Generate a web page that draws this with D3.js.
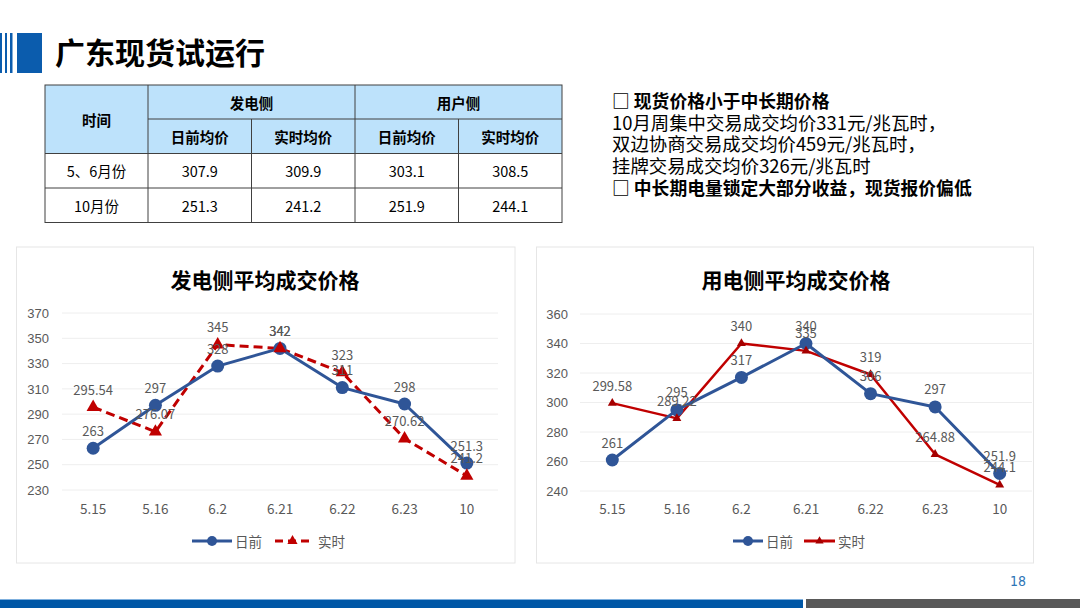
<!DOCTYPE html>
<html><head><meta charset="utf-8">
<script src="https://cdn.jsdelivr.net/npm/d3@7/dist/d3.min.js"></script>
<style>
html,body{margin:0;padding:0;background:#fff;}
svg{display:block;}
</style></head>
<body>
<script>
// ---------- data ----------
const categories = ["5.15","5.16","6.2","6.21","6.22","6.23","10"];
const genDayAhead = [263, 297, 328, 342, 311, 298, 251.3];
const genRealTime = [295.54, 276.07, 345, 342, 323, 270.62, 241.2];
const userDayAhead = [261, 295, 317, 340, 306, 297, 251.9];
const userRealTime = [299.58, 289.22, 340, 335, 319, 264.88, 244.1];
const genTicks = [230,250,270,290,310,330,350,370];
const userTicks = [240,260,280,300,320,340,360];
const seriesNames = ["日前","实时"];
const tableHeadTop = ["时间","发电侧","用户侧"];
const tableHeadSub = ["日前均价","实时均价","日前均价","实时均价"];
const tableRowLabels = ["5、6月份","10月份"];
const tableValues = [["307.9","309.9","303.1","308.5"],["251.3","241.2","251.9","244.1"]];
const noteLines = [
  {t:"□ 现货价格小于中长期价格", b:true},
  {t:"10月周集中交易成交均价331元/兆瓦时，", b:false},
  {t:"双边协商交易成交均价459元/兆瓦时，", b:false},
  {t:"挂牌交易成交均价326元/兆瓦时", b:false},
  {t:"□ 中长期电量锁定大部分收益，现货报价偏低", b:true}
];

const W=1080,H=608;
const CJK = "'Noto Sans CJK SC','Microsoft YaHei',sans-serif";
const svg = d3.select("body").append("svg").attr("width",W).attr("height",H);

// ---------- header ----------
const blue="#0b5cad";
[[0,2],[5,2],[10,2.5]].forEach(([x,w])=>svg.append("rect").attr("x",x).attr("y",33).attr("width",w).attr("height",40).attr("fill",blue));
svg.append("rect").attr("x",17).attr("y",33).attr("width",25).attr("height",40).attr("fill",blue);
svg.append("text").attr("x",55).attr("y",64).attr("font-family",CJK).attr("font-weight","bold")
  .attr("font-size",30).attr("fill","#000").text("广东现货试运行");

// ---------- table ----------
const colX=[45,148,251.5,355,458.5,562];
const rowY=[85,119,153.5,188,222.5];
const tg=svg.append("g");
const headFill="#bde2fb";
tg.append("rect").attr("x",45).attr("y",85).attr("width",517).attr("height",68.5).attr("fill",headFill);
const lineC="#404040";
tg.append("rect").attr("x",45).attr("y",85).attr("width",517).attr("height",137.5).attr("fill","none").attr("stroke",lineC).attr("stroke-width",1);
tg.append("line").attr("x1",148).attr("x2",562).attr("y1",119).attr("y2",119).attr("stroke",lineC);
[153.5,188].forEach(y=>tg.append("line").attr("x1",45).attr("x2",562).attr("y1",y).attr("y2",y).attr("stroke",lineC));
tg.append("line").attr("x1",148).attr("x2",148).attr("y1",85).attr("y2",222.5).attr("stroke",lineC);
tg.append("line").attr("x1",355).attr("x2",355).attr("y1",85).attr("y2",222.5).attr("stroke",lineC);
[251.5,458.5].forEach(x=>tg.append("line").attr("x1",x).attr("x2",x).attr("y1",119).attr("y2",222.5).attr("stroke",lineC));
function ttext(x,y,t,bold){tg.append("text").attr("x",x).attr("y",y).attr("text-anchor","middle").attr("dominant-baseline","central")
  .attr("font-family",CJK).attr("font-weight",bold?"bold":"normal").attr("font-size",14.5).attr("fill","#000").text(t);}
ttext((45+148)/2,(85+153.5)/2,tableHeadTop[0],true);
ttext((148+355)/2,102,tableHeadTop[1],true);
ttext((355+562)/2,102,tableHeadTop[2],true);
tableHeadSub.forEach((t,i)=>ttext((colX[i+1]+colX[i+2])/2,136.5,t,true));
tableRowLabels.forEach((t,r)=>{
  ttext((45+148)/2,(rowY[r+2]+rowY[r+3])/2,t,false);
  tableValues[r].forEach((v,i)=>ttext((colX[i+1]+colX[i+2])/2,(rowY[r+2]+rowY[r+3])/2,v,false));
});

// ---------- notes ----------
noteLines.forEach((l,i)=>{
  svg.append("text").attr("x",612).attr("y",108+i*21.7).attr("font-family",CJK)
    .attr("font-weight",l.b?"bold":"normal").attr("font-size",l.b?17.8:18.4).attr("fill","#000").text(l.t);
});

// ---------- charts ----------
function chart(o){
  const g=svg.append("g");
  g.append("rect").attr("x",o.px).attr("y",247).attr("width",o.pw).attr("height",316)
    .attr("fill","#fff").attr("stroke","#e6e6e6").attr("stroke-width",1);
  g.append("text").attr("x",o.tx).attr("y",279).attr("text-anchor","middle").attr("dominant-baseline","central")
    .attr("font-family",CJK).attr("font-weight","bold").attr("font-size",21).attr("fill","#000").text(o.title);
  const x=d3.scaleBand().domain(categories).range([o.x0,o.x1]);
  const y=d3.scaleLinear().domain(o.domain).range([o.y1,o.y0]);
  g.append("g").selectAll("line").data(o.ticks).join("line")
    .attr("x1",o.x0).attr("x2",o.x1).attr("y1",d=>y(d)).attr("y2",d=>y(d)).attr("stroke","#eeeeee").attr("stroke-width",1);
  const ya=g.append("g").attr("transform",`translate(${o.yl},0)`)
    .call(d3.axisLeft(y).tickValues(o.ticks).tickSize(0).tickPadding(0));
  ya.select(".domain").remove();
  ya.selectAll("text").attr("font-family","'Liberation Sans',Arial,sans-serif").attr("font-size",13).attr("fill","#595959");
  const xa=g.append("g").attr("transform",`translate(0,${502})`)
    .call(d3.axisBottom(x).tickSize(0).tickPadding(0));
  xa.select(".domain").remove();
  xa.selectAll("text").attr("font-family",CJK).attr("font-size",13.5).attr("fill","#595959").attr("dy","0.9em");
  const cx=d=>x(d)+x.bandwidth()/2;
  const line=d3.line().x((d,i)=>cx(categories[i])).y(d=>y(d));
  g.append("path").datum(o.rt).attr("d",line).attr("fill","none").attr("stroke","#c00000")
    .attr("stroke-width",o.dashed?3:2.5).attr("stroke-dasharray",o.dashed?"9,5":null).attr("stroke-linejoin","round");
  g.append("path").datum(o.da).attr("d",line).attr("fill","none").attr("stroke","#2f5597").attr("stroke-width",3).attr("stroke-linejoin","round");
  g.append("g").selectAll("circle").data(o.da).join("circle")
    .attr("cx",(d,i)=>cx(categories[i])).attr("cy",d=>y(d)).attr("r",6.5).attr("fill","#2f5597");
  const tri=d3.symbol().type(d3.symbolTriangle).size(o.dashed?75:35);
  g.append("g").selectAll("path").data(o.rt).join("path")
    .attr("d",tri).attr("transform",(d,i)=>`translate(${cx(categories[i])},${y(d)})`).attr("fill",o.dashed?"#c00000":"#a50000");
  const lab=(arr)=>g.append("g").selectAll("text").data(arr).join("text")
    .attr("x",(d,i)=>cx(categories[i])).attr("y",d=>y(d)-18).attr("text-anchor","middle").attr("dominant-baseline","central")
    .attr("font-family",CJK).attr("font-size",13).attr("fill","#595959").text(d=>d);
  lab(o.da); lab(o.rt);
  const ly=541;
  g.append("line").attr("x1",o.lg[0]).attr("x2",o.lg[1]).attr("y1",ly).attr("y2",ly).attr("stroke","#2f5597").attr("stroke-width",3);
  g.append("circle").attr("cx",(o.lg[0]+o.lg[1])/2).attr("cy",ly).attr("r",5).attr("fill","#2f5597");
  g.append("text").attr("x",o.lg[2]).attr("y",ly).attr("dominant-baseline","central").attr("font-family",CJK).attr("font-size",13.5).attr("fill","#595959").text(seriesNames[0]);
  g.append("line").attr("x1",o.lg[3]).attr("x2",o.lg[4]).attr("y1",ly).attr("y2",ly).attr("stroke","#c00000").attr("stroke-width",3)
    .attr("stroke-dasharray",o.dashed?"8,5":null);
  g.append("path").attr("d",d3.symbol().type(d3.symbolTriangle).size(o.dashed?45:30)).attr("transform",`translate(${(o.lg[3]+o.lg[4])/2},${ly})`).attr("fill",o.dashed?"#c00000":"#a50000");
  g.append("text").attr("x",o.lg[5]).attr("y",ly).attr("dominant-baseline","central").attr("font-family",CJK).attr("font-size",13.5).attr("fill","#595959").text(seriesNames[1]);
}
chart({px:16.5,pw:498.5,tx:265,title:"发电侧平均成交价格",x0:62,x1:498,y0:313,y1:490,domain:[230,370],ticks:genTicks,yl:49,
  da:genDayAhead,rt:genRealTime,dashed:true,lg:[192,232,235,275,310,318]});
chart({px:536.5,pw:497,tx:796,title:"用电侧平均成交价格",x0:580,x1:1032,y0:314,y1:491,domain:[240,360],ticks:userTicks,yl:568,
  da:userDayAhead,rt:userRealTime,dashed:false,lg:[733,763,766,804,835,838]});

// ---------- footer ----------
svg.append("text").attr("x",1018).attr("y",581).attr("text-anchor","middle").attr("dominant-baseline","central")
  .attr("font-family","'Liberation Sans Narrow','DejaVu Sans Condensed',sans-serif").attr("font-size",14).attr("fill","#2e75b6").text("18");
svg.append("rect").attr("x",0).attr("y",599).attr("width",803).attr("height",9).attr("fill","#0057a6");
svg.append("rect").attr("x",0).attr("y",599).attr("width",803).attr("height",1).attr("fill","#7fb0de");
svg.append("rect").attr("x",806).attr("y",599).attr("width",274).attr("height",9).attr("fill","#595959");
</script>
</body></html>
